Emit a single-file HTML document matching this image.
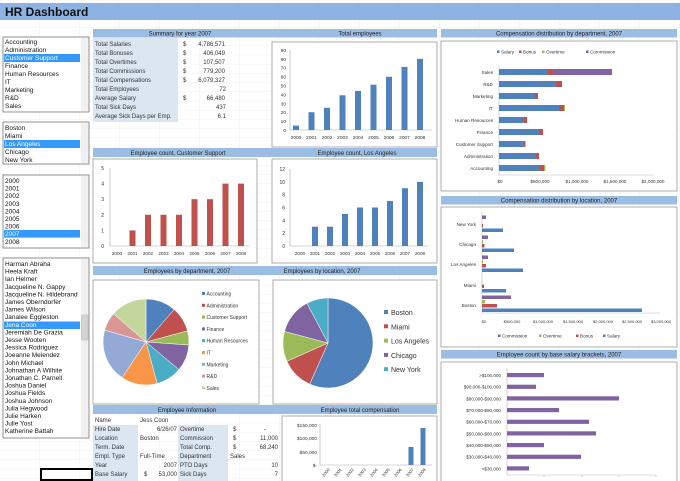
<!DOCTYPE html>
<html><head><meta charset="utf-8"><style>
html,body{margin:0;padding:0;background:#fff;}
svg{display:block;font-family:"Liberation Sans",sans-serif;}
</style></head><body>
<svg width="680" height="481" viewBox="0 0 680 481" xmlns="http://www.w3.org/2000/svg">
<defs>
<pattern id="g" width="40" height="9.2" patternUnits="userSpaceOnUse"><path d="M0 9.2H40M40 0V9.2" stroke="#e3e6ea" stroke-width="0.6" fill="none"/></pattern>
</defs>
<rect width="680" height="481" fill="#fff"/>
<rect width="680" height="481" fill="url(#g)"/>
<!-- title -->
<rect x="0" y="3" width="680" height="17" fill="#8db3e2"/>
<text x="5" y="16" font-size="12" font-weight="bold" fill="#111">HR Dashboard</text>

<!-- list boxes -->
<g font-size="6.5" fill="#111">
<rect x="3" y="37" width="86" height="75" fill="#fff" stroke="#777" stroke-width="0.8"/>
<rect x="81" y="38" width="7.5" height="73" fill="#f0f0f0"/>
<rect x="4" y="54" width="76" height="8" fill="#3399ff"/>
<text x="5" y="44">Accounting</text><text x="5" y="52">Administration</text><text x="5" y="60" fill="#fff">Customer Support</text><text x="5" y="68">Finance</text><text x="5" y="76">Human Resources</text><text x="5" y="84">IT</text><text x="5" y="92">Marketing</text><text x="5" y="100">R&amp;D</text><text x="5" y="108">Sales</text>

<rect x="3" y="122" width="86" height="42" fill="#fff" stroke="#777" stroke-width="0.8"/>
<rect x="81" y="123" width="7.5" height="40" fill="#f0f0f0"/>
<rect x="4" y="140" width="76" height="8" fill="#3399ff"/>
<text x="5" y="130">Boston</text><text x="5" y="138">Miami</text><text x="5" y="146" fill="#fff">Los Angeles</text><text x="5" y="154">Chicago</text><text x="5" y="162">New York</text>

<rect x="3" y="175" width="86" height="73" fill="#fff" stroke="#777" stroke-width="0.8"/>
<rect x="81" y="176" width="7.5" height="71" fill="#f0f0f0"/>
<rect x="4" y="230" width="76" height="7.6" fill="#3399ff"/>
<text x="5" y="183">2000</text><text x="5" y="190.6">2001</text><text x="5" y="198.2">2002</text><text x="5" y="205.8">2003</text><text x="5" y="213.4">2004</text><text x="5" y="221">2005</text><text x="5" y="228.6">2006</text><text x="5" y="236.2" fill="#fff">2007</text><text x="5" y="243.8">2008</text>

<rect x="3" y="258" width="86" height="180" fill="#fff" stroke="#777" stroke-width="0.8"/>
<rect x="81" y="259" width="7.5" height="178" fill="#f0f0f0"/>
<rect x="81.5" y="315" width="6.5" height="25" fill="#d4d4d4" stroke="#aaa" stroke-width="0.4"/>
<rect x="4" y="321.5" width="76" height="7.6" fill="#3399ff"/>
<text x="5" y="266">Harman Abraha</text><text x="5" y="273.6">Heela Kraft</text><text x="5" y="281.2">Ian Helmer</text><text x="5" y="288.8">Jacqueline N. Gappy</text><text x="5" y="296.4">Jacqueline N. Hildebrand</text><text x="5" y="304">James Oberndorfer</text><text x="5" y="311.6">James Wilson</text><text x="5" y="319.2">Janalee Eggleston</text><text x="5" y="326.8" fill="#fff">Jena Coon</text><text x="5" y="334.4">Jeremiah De Grazia</text><text x="5" y="342">Jesse Wooten</text><text x="5" y="349.6">Jessica Rodriguez</text><text x="5" y="357.2">Joeanne Melendez</text><text x="5" y="364.8">John  Michael</text><text x="5" y="372.4">Johnathan A Wilhite</text><text x="5" y="380">Jonathan C. Parnell</text><text x="5" y="387.6">Joshua Daniel</text><text x="5" y="395.2">Joshua Fields</text><text x="5" y="402.8">Joshua Johnson</text><text x="5" y="410.4">Julia  Hegwood</text><text x="5" y="418">Julie Harken</text><text x="5" y="425.6">Julie Yost</text><text x="5" y="433.2">Katherine Battah</text>
</g>
<rect x="41" y="469" width="51" height="11" fill="none" stroke="#000" stroke-width="2"/>

<!-- header bars -->
<g fill="#9cbde3">
<rect x="93" y="29" width="344" height="8.5"/>
<rect x="441" y="29" width="236" height="8.5"/>
<rect x="93" y="148" width="344" height="9"/>
<rect x="93" y="266" width="344" height="9"/>
<rect x="93" y="405" width="344" height="9"/>
<rect x="441" y="196" width="236" height="8.5"/>
<rect x="441" y="350" width="236" height="8.5"/>
</g>
<g font-size="6" fill="#222" text-anchor="middle">
<text x="180" y="35.5">Summary for year 2007</text>
<text x="360" y="35.5">Total employees</text>
<text x="559" y="35.5">Compensation distribution by department, 2007</text>
<text x="178" y="155">Employee count, Customer Support</text>
<text x="357" y="155">Employee count, Los Angeles</text>
<text x="187" y="273">Employees by department, 2007</text>
<text x="322" y="273">Employees by location, 2007</text>
<text x="187" y="412">Employee Information</text>
<text x="360" y="412">Employee total compensation</text>
<text x="559" y="202.5">Compensation distribution by location, 2007</text>
<text x="559" y="356.5">Employee count by base salary brackets, 2007</text>
</g>

<!-- summary table -->
<rect x="93" y="38" width="85" height="84" fill="#dce6f1"/>
<g font-size="6" fill="#333">
<text x="95" y="46">Total Salaries</text><text x="95" y="55">Total Bonuses</text><text x="95" y="64">Total Overtimes</text><text x="95" y="73">Total Commissions</text><text x="95" y="82">Total Compensations</text><text x="95" y="91">Total Employees</text><text x="95" y="100">Average Salary</text><text x="95" y="109">Total Sick Days</text><text x="95" y="118">Average Sick Days per Emp.</text>
<g><text x="183" y="46">$</text><text x="183" y="55">$</text><text x="183" y="64">$</text><text x="183" y="73">$</text><text x="183" y="82">$</text><text x="183" y="100">$</text></g>
<g text-anchor="end"><text x="225" y="46">4,786,571</text><text x="225" y="55">406,049</text><text x="225" y="64">107,507</text><text x="225" y="73">779,200</text><text x="225" y="82">6,079,327</text><text x="226" y="91">72</text><text x="225" y="100">66,480</text><text x="226" y="109">437</text><text x="226" y="118">6.1</text></g>
</g>

<!-- chart boxes -->
<g fill="#fff" stroke="#999" stroke-width="0.8">
<rect x="272" y="42" width="165" height="105"/>
<rect x="93" y="159" width="164" height="104"/>
<rect x="272" y="159" width="165" height="104"/>
<rect x="93" y="280" width="166" height="124"/>
<rect x="273" y="280" width="164" height="124"/>
<rect x="282" y="416" width="155" height="66"/>
<rect x="441" y="41" width="236" height="150"/>
<rect x="441" y="207" width="236" height="140"/>
<rect x="441" y="362" width="236" height="120"/>
</g>

<!-- total employees -->
<path d="M290 50V130H432" stroke="#aaa" stroke-width="0.6" fill="none"/>
<g font-size="4.8" fill="#333" text-anchor="end">
<text x="286" y="132">0</text><text x="286" y="123">10</text><text x="286" y="114">20</text><text x="286" y="105.5">30</text><text x="286" y="96.5">40</text><text x="286" y="87.5">50</text><text x="286" y="78.5">60</text><text x="286" y="69.5">70</text><text x="286" y="61">80</text><text x="286" y="52">90</text>
</g>
<g fill="#4f81bd">
<rect x="293" y="125.6" width="6" height="4.4"/><rect x="308.5" y="112.2" width="6" height="17.8"/><rect x="324" y="107.8" width="6" height="22.2"/><rect x="339.5" y="95.3" width="6" height="34.7"/><rect x="355" y="90.9" width="6" height="39.1"/><rect x="370.5" y="84.7" width="6" height="45.3"/><rect x="386" y="76.7" width="6" height="53.3"/><rect x="401.5" y="66.9" width="6" height="63.1"/><rect x="417" y="58.9" width="6" height="71.1"/>
</g>
<g font-size="4.8" fill="#333" text-anchor="middle">
<text x="296" y="139">2000</text><text x="311.5" y="139">2001</text><text x="327" y="139">2002</text><text x="342.5" y="139">2003</text><text x="358" y="139">2004</text><text x="373.5" y="139">2005</text><text x="389" y="139">2006</text><text x="404.5" y="139">2007</text><text x="420" y="139">2008</text>
</g>

<!-- customer support -->
<path d="M110 168V246H249" stroke="#aaa" stroke-width="0.6" fill="none"/>
<g font-size="5" fill="#333" text-anchor="end">
<text x="104" y="248">0</text><text x="104" y="232.5">1</text><text x="104" y="217">2</text><text x="104" y="201">3</text><text x="104" y="185.5">4</text><text x="104" y="170">5</text>
</g>
<g fill="#c0504d">
<rect x="129.5" y="230.4" width="6" height="15.6"/><rect x="145" y="214.8" width="6" height="31.2"/><rect x="160.5" y="214.8" width="6" height="31.2"/><rect x="176" y="214.8" width="6" height="31.2"/><rect x="191.5" y="199.2" width="6" height="46.8"/><rect x="207" y="199.2" width="6" height="46.8"/><rect x="222.5" y="183.6" width="6" height="62.4"/><rect x="238" y="183.6" width="6" height="62.4"/>
</g>
<g font-size="4.6" fill="#333" text-anchor="middle">
<text x="117" y="255">2000</text><text x="132.5" y="255">2001</text><text x="148" y="255">2002</text><text x="163.5" y="255">2003</text><text x="179" y="255">2004</text><text x="194.5" y="255">2005</text><text x="210" y="255">2006</text><text x="225.5" y="255">2007</text><text x="241" y="255">2008</text>
</g>

<!-- los angeles -->
<path d="M290 169V246H428" stroke="#aaa" stroke-width="0.6" fill="none"/>
<g font-size="5" fill="#333" text-anchor="end">
<text x="285" y="248">0</text><text x="285" y="235">2</text><text x="285" y="222.5">4</text><text x="285" y="209.5">6</text><text x="285" y="196.5">8</text><text x="285" y="184">10</text><text x="285" y="171">12</text>
</g>
<g fill="#4f81bd">
<rect x="312" y="226.7" width="6" height="19.3"/><rect x="327" y="226.7" width="6" height="19.3"/><rect x="342" y="213.9" width="6" height="32.1"/><rect x="357" y="207.5" width="6" height="38.5"/><rect x="372" y="207.5" width="6" height="38.5"/><rect x="387" y="201" width="6" height="45"/><rect x="402" y="188.2" width="6" height="57.8"/><rect x="417" y="181.8" width="6" height="64.2"/>
</g>
<g font-size="4.6" fill="#333" text-anchor="middle">
<text x="300" y="255">2000</text><text x="315" y="255">2001</text><text x="330" y="255">2002</text><text x="345" y="255">2003</text><text x="360" y="255">2004</text><text x="375" y="255">2005</text><text x="390" y="255">2006</text><text x="405" y="255">2007</text><text x="420" y="255">2008</text>
</g>

<!-- dept pie -->
<g stroke="#fff" stroke-width="0.5">
<path d="M146 342L146 299A43 43 0 0 1 174.2 309.5Z" fill="#4f81bd"/>
<path d="M146 342L174.2 309.5A43 43 0 0 1 187.5 330.9Z" fill="#c0504d"/>
<path d="M146 342L187.5 330.9A43 43 0 0 1 188.9 345Z" fill="#9bbb59"/>
<path d="M146 342L188.9 345A43 43 0 0 1 178.9 369.6Z" fill="#8064a2"/>
<path d="M146 342L178.9 369.6A43 43 0 0 1 157.1 383.5Z" fill="#4bacc6"/>
<path d="M146 342L157.1 383.5A43 43 0 0 1 122 377.6Z" fill="#f79646"/>
<path d="M146 342L122 377.6A43 43 0 0 1 104.7 330.1Z" fill="#95a9d6"/>
<path d="M146 342L104.7 330.1A43 43 0 0 1 113.5 313.8Z" fill="#d99694"/>
<path d="M146 342L113.5 313.8A43 43 0 0 1 146 299Z" fill="#c3d69b"/>
</g>
<g font-size="5" fill="#333">
<rect x="202" y="292" width="3" height="3" fill="#4f81bd"/><text x="206.5" y="295.5">Accounting</text>
<rect x="202" y="303.8" width="3" height="3" fill="#c0504d"/><text x="206.5" y="307.3">Administration</text>
<rect x="202" y="315.6" width="3" height="3" fill="#9bbb59"/><text x="206.5" y="319.1">Customer Support</text>
<rect x="202" y="327.4" width="3" height="3" fill="#8064a2"/><text x="206.5" y="330.9">Finance</text>
<rect x="202" y="339.2" width="3" height="3" fill="#4bacc6"/><text x="206.5" y="342.7">Human Resources</text>
<rect x="202" y="351" width="3" height="3" fill="#f79646"/><text x="206.5" y="354.5">IT</text>
<rect x="202" y="362.8" width="3" height="3" fill="#95a9d6"/><text x="206.5" y="366.3">Marketing</text>
<rect x="202" y="374.6" width="3" height="3" fill="#d99694"/><text x="206.5" y="378.1">R&amp;D</text>
<rect x="202" y="386.4" width="3" height="3" fill="#c3d69b"/><text x="206.5" y="389.9">Sales</text>
</g>

<!-- location pie -->
<g stroke="#fff" stroke-width="0.5">
<path d="M328 343L328 298A45 45 0 1 1 309.7 384.1Z" fill="#4f81bd"/>
<path d="M328 343L309.7 384.1A45 45 0 0 1 286.9 361.3Z" fill="#c0504d"/>
<path d="M328 343L286.9 361.3A45 45 0 0 1 284.5 331.4Z" fill="#9bbb59"/>
<path d="M328 343L284.5 331.4A45 45 0 0 1 306.9 303.3Z" fill="#8064a2"/>
<path d="M328 343L306.9 303.3A45 45 0 0 1 328 298Z" fill="#4bacc6"/>
</g>
<g font-size="7" fill="#333">
<rect x="384" y="310" width="4" height="4" fill="#4f81bd"/><text x="391" y="315">Boston</text>
<rect x="384" y="324.3" width="4" height="4" fill="#c0504d"/><text x="391" y="329.3">Miami</text>
<rect x="384" y="338.6" width="4" height="4" fill="#9bbb59"/><text x="391" y="343.6">Los Angeles</text>
<rect x="384" y="352.9" width="4" height="4" fill="#8064a2"/><text x="391" y="357.9">Chicago</text>
<rect x="384" y="367.2" width="4" height="4" fill="#4bacc6"/><text x="391" y="372.2">New York</text>
</g>

<!-- employee info table -->
<rect x="93" y="425" width="45" height="56" fill="#dce6f1"/>
<rect x="93" y="416" width="45" height="9" fill="#fff"/>
<rect x="178" y="425" width="50" height="56" fill="#dce6f1"/>
<g font-size="6" fill="#333">
<text x="95" y="422">Name</text><text x="140" y="422">Jess Coon</text>
<text x="95" y="431">Hire Date</text><text x="177" y="431" text-anchor="end">6/26/07</text><text x="180" y="431">Overtime</text><text x="233" y="431">$</text><text x="266" y="431" text-anchor="end">-</text>
<text x="95" y="440">Location</text><text x="140" y="440">Boston</text><text x="180" y="440">Commission</text><text x="233" y="440">$</text><text x="278" y="440" text-anchor="end">11,000</text>
<text x="95" y="449">Term. Date</text><text x="180" y="449">Total Comp.</text><text x="233" y="449">$</text><text x="278" y="449" text-anchor="end">68,240</text>
<text x="95" y="458">Empl. Type</text><text x="140" y="458">Full-Time</text><text x="180" y="458">Department</text><text x="230" y="458">Sales</text>
<text x="95" y="467">Year</text><text x="177" y="467" text-anchor="end">2007</text><text x="180" y="467">PTO Days</text><text x="278" y="467" text-anchor="end">10</text>
<text x="95" y="476">Base Salary</text><text x="144" y="476">$</text><text x="177" y="476" text-anchor="end">53,000</text><text x="180" y="476">Sick Days</text><text x="278" y="476" text-anchor="end">7</text>
</g>

<!-- employee total comp -->
<path d="M320 424V465H432" stroke="#aaa" stroke-width="0.6" fill="none"/>
<g font-size="4.8" fill="#333" text-anchor="end">
<text x="317" y="427">$150,000</text><text x="317" y="440">$100,000</text><text x="317" y="454">$50,000</text><text x="317" y="467">$-</text>
</g>
<rect x="408.5" y="447" width="5" height="18" fill="#4f81bd"/>
<rect x="420.5" y="428" width="5" height="37" fill="#4f81bd"/>
<g font-size="4.2" fill="#333">
<text transform="translate(324,477) rotate(-50)">2000</text><text transform="translate(336,477) rotate(-50)">2001</text><text transform="translate(348,477) rotate(-50)">2002</text><text transform="translate(360,477) rotate(-50)">2003</text><text transform="translate(372,477) rotate(-50)">2004</text><text transform="translate(384,477) rotate(-50)">2005</text><text transform="translate(396,477) rotate(-50)">2006</text><text transform="translate(408,477) rotate(-50)">2007</text><text transform="translate(420,477) rotate(-50)">2008</text>
</g>

<!-- dept comp chart -->
<g font-size="4.6" fill="#333">
<rect x="497" y="50.5" width="2.5" height="2.5" fill="#4f81bd"/><text x="501" y="53.3">Salary</text>
<rect x="519" y="50.5" width="2.5" height="2.5" fill="#c0504d"/><text x="523" y="53.3">Bonus</text>
<rect x="542" y="50.5" width="2.5" height="2.5" fill="#9bbb59"/><text x="546" y="53.3">Overtime</text>
<rect x="586" y="50.5" width="2.5" height="2.5" fill="#8064a2"/><text x="590" y="53.3">Commission</text>
</g>
<path d="M499 66V175H653" stroke="#bbb" stroke-width="0.6" fill="none"/>
<g font-size="4.6" fill="#333" text-anchor="end">
<text x="493" y="74">Sales</text><text x="493" y="86">R&amp;D</text><text x="493" y="98">Marketing</text><text x="493" y="110">IT</text><text x="493" y="122">Human Resources</text><text x="493" y="134">Finance</text><text x="493" y="146">Customer Support</text><text x="493" y="158">Administration</text><text x="493" y="170">Accounting</text>
</g>
<g>
<rect x="499" y="69" width="49" height="6" fill="#4f81bd"/><rect x="548" y="69" width="5" height="6" fill="#c0504d"/><rect x="553" y="69" width="59" height="6" fill="#8064a2"/>
<rect x="499" y="81" width="57" height="6" fill="#4f81bd"/><rect x="556" y="81" width="6" height="6" fill="#c0504d"/>
<rect x="499" y="93" width="36" height="6" fill="#4f81bd"/><rect x="535" y="93" width="3" height="6" fill="#c0504d"/>
<rect x="499" y="105" width="60" height="6" fill="#4f81bd"/><rect x="559" y="105" width="5" height="6" fill="#c0504d"/><rect x="564" y="105" width="1" height="6" fill="#9bbb59"/>
<rect x="499" y="117" width="25" height="6" fill="#4f81bd"/><rect x="524" y="117" width="3" height="6" fill="#c0504d"/>
<rect x="499" y="129" width="40" height="6" fill="#4f81bd"/><rect x="539" y="129" width="4" height="6" fill="#c0504d"/>
<rect x="499" y="141" width="25" height="6" fill="#4f81bd"/><rect x="524" y="141" width="1.5" height="6" fill="#c0504d"/>
<rect x="499" y="153" width="37" height="6" fill="#4f81bd"/><rect x="536" y="153" width="3" height="6" fill="#c0504d"/>
<rect x="499" y="165" width="41" height="6" fill="#4f81bd"/><rect x="540" y="165" width="4" height="6" fill="#c0504d"/><rect x="544" y="165" width="1.3" height="6" fill="#9bbb59"/>
</g>
<g font-size="4.6" fill="#333" text-anchor="middle">
<text x="500" y="183">$0</text><text x="540" y="183">$500,000</text><text x="577" y="183">$1,000,000</text><text x="615" y="183">$1,500,000</text><text x="653" y="183">$2,000,000</text>
</g>

<!-- location comp chart -->
<path d="M482 212V313H660" stroke="#bbb" stroke-width="0.6" fill="none"/>
<g font-size="4.6" fill="#333" text-anchor="end">
<text x="476" y="226">New York</text><text x="476" y="246">Chicago</text><text x="476" y="266">Los Angeles</text><text x="476" y="287">Miami</text><text x="476" y="307">Boston</text>
</g>
<g>
<rect x="482" y="215.5" width="4" height="3.5" fill="#8064a2"/><rect x="482" y="224" width="1" height="3.5" fill="#c0504d"/><rect x="482" y="228.5" width="21" height="3.5" fill="#4f81bd"/>
<rect x="482" y="235.5" width="6" height="3.5" fill="#8064a2"/><rect x="482" y="240" width="1" height="3.5" fill="#9bbb59"/><rect x="482" y="244" width="2.5" height="3.5" fill="#c0504d"/><rect x="482" y="248.5" width="32" height="3.5" fill="#4f81bd"/>
<rect x="482" y="255.5" width="6" height="3.5" fill="#8064a2"/><rect x="482" y="260" width="1" height="3.5" fill="#9bbb59"/><rect x="482" y="264" width="4" height="3.5" fill="#c0504d"/><rect x="482" y="268.5" width="41" height="3.5" fill="#4f81bd"/>
<rect x="482" y="284.5" width="2" height="3.5" fill="#c0504d"/><rect x="482" y="289" width="24" height="3.5" fill="#4f81bd"/>
<rect x="482" y="295.5" width="29" height="3.5" fill="#8064a2"/><rect x="482" y="300" width="3" height="3.5" fill="#9bbb59"/><rect x="482" y="304" width="15" height="3.5" fill="#c0504d"/><rect x="482" y="308.5" width="160" height="3.5" fill="#4f81bd"/>
</g>
<g font-size="4" fill="#333" text-anchor="middle">
<text x="484" y="323">$0</text><text x="512" y="323">$500,000</text><text x="543" y="323">$1,000,000</text><text x="573" y="323">$1,500,000</text><text x="603" y="323">$2,000,000</text><text x="632" y="323">$2,500,000</text><text x="661" y="323">$3,000,000</text>
</g>
<g font-size="4.6" fill="#333">
<rect x="498" y="334.5" width="2.5" height="2.5" fill="#8064a2"/><text x="502" y="337.3">Commission</text>
<rect x="539" y="334.5" width="2.5" height="2.5" fill="#9bbb59"/><text x="543" y="337.3">Overtime</text>
<rect x="576" y="334.5" width="2.5" height="2.5" fill="#c0504d"/><text x="580" y="337.3">Bonus</text>
<rect x="603" y="334.5" width="2.5" height="2.5" fill="#4f81bd"/><text x="607" y="337.3">Salary</text>
</g>

<!-- salary brackets -->
<path d="M507 368V475H657M544 475v2M582 475v2M619 475v2M656 475v2" stroke="#bbb" stroke-width="0.6" fill="none"/>
<g font-size="4.6" fill="#333" text-anchor="end">
<text x="501" y="377">&gt;$100,000</text><text x="501" y="388.7">$90,000-$100,000</text><text x="501" y="400.3">$80,000-$90,000</text><text x="501" y="412">$70,000-$80,000</text><text x="501" y="423.7">$60,000-$70,000</text><text x="501" y="435.3">$50,000-$60,000</text><text x="501" y="447">$40,000-$50,000</text><text x="501" y="458.7">$30,000-$40,000</text><text x="501" y="470.3">&lt;$30,000</text>
</g>
<g fill="#8064a2">
<rect x="507" y="373" width="37" height="4.2"/><rect x="507" y="384.7" width="29" height="4.2"/><rect x="507" y="396.3" width="112" height="4.2"/><rect x="507" y="408" width="52" height="4.2"/><rect x="507" y="419.7" width="82" height="4.2"/><rect x="507" y="431.3" width="89" height="4.2"/><rect x="507" y="443" width="37" height="4.2"/><rect x="507" y="454.7" width="74" height="4.2"/><rect x="507" y="466.3" width="22" height="4.2"/>
</g>
</svg>
</body></html>
